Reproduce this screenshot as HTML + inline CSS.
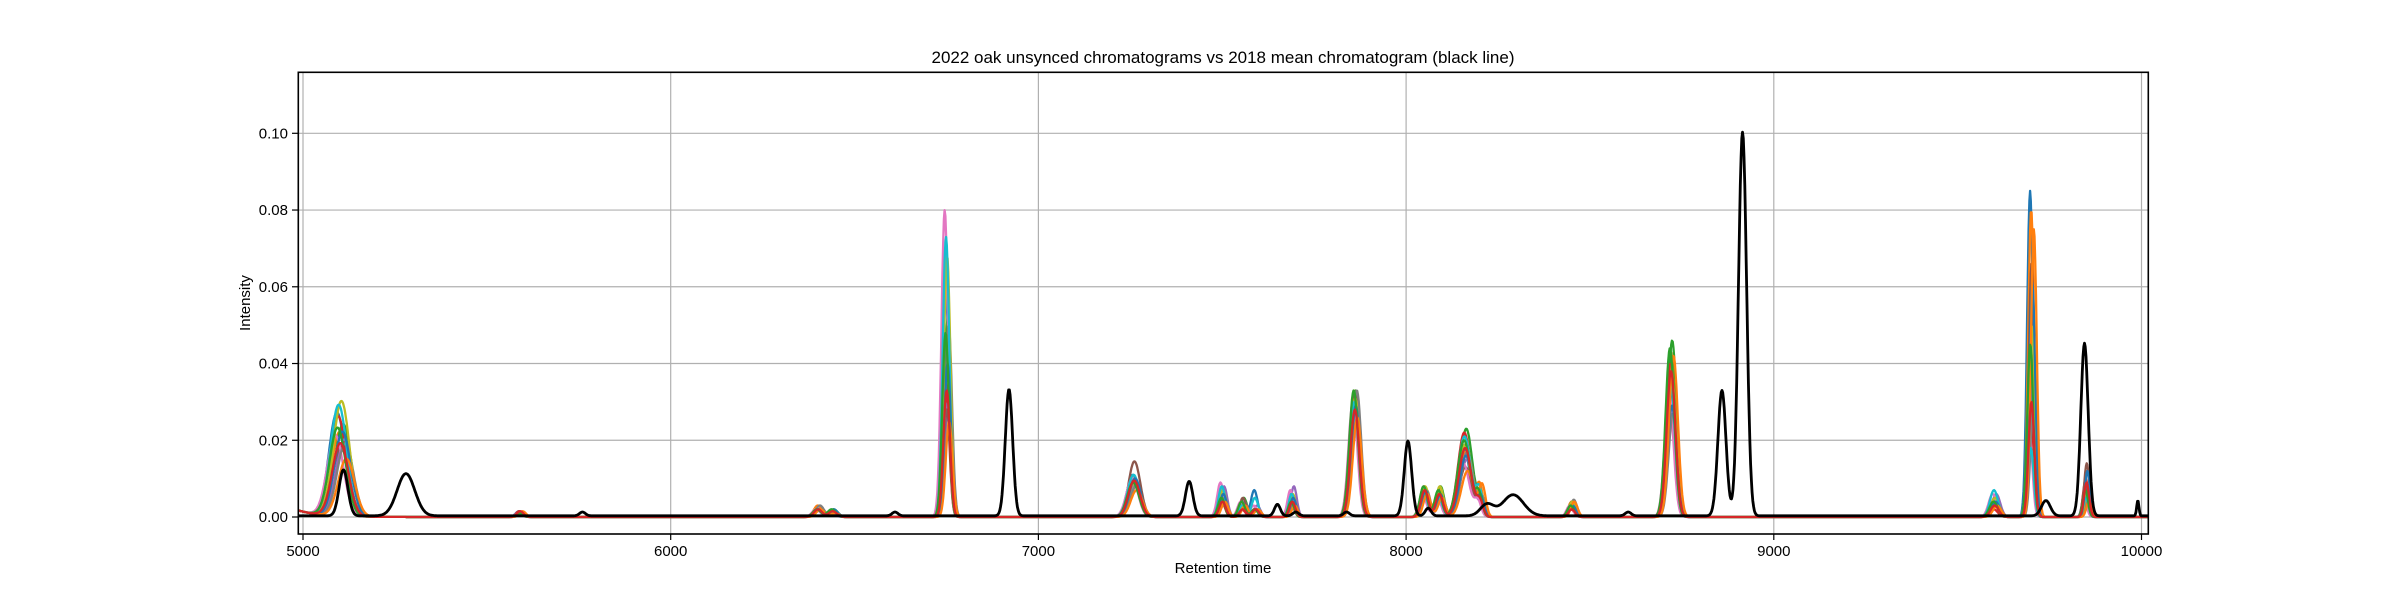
<!DOCTYPE html>
<html><head><meta charset="utf-8"><style>
html,body{margin:0;padding:0;background:#fff;}
svg{display:block;font-family:"Liberation Sans","DejaVu Sans",sans-serif;}
</style></head><body>
<svg id="chart" width="2387" height="600" viewBox="0 0 2387 600">
<defs><clipPath id="plotclip"><rect x="298.3" y="72.3" width="1850" height="461.7"/></clipPath></defs>
<text x="1223" y="63" text-anchor="middle" font-size="17">2022 oak unsynced chromatograms vs 2018 mean chromatogram (black line)</text>
<g id="grid"></g>
<g id="series" clip-path="url(#plotclip)"></g>
<rect x="298.3" y="72.3" width="1850" height="461.7" fill="none" stroke="#000" stroke-width="1.6"/>
<g id="axes"></g>
<text x="1223" y="573" text-anchor="middle" font-size="15">Retention time</text>
<text transform="translate(250,303) rotate(-90)" text-anchor="middle" font-size="15">Intensity</text>
</svg>
<script>
const xTicks = [5000, 6000, 7000, 8000, 9000, 10000];
const yTicks = [0.00, 0.02, 0.04, 0.06, 0.08, 0.10];
const yTickLabels = ["0.00", "0.02", "0.04", "0.06", "0.08", "0.10"];
const colors = ["#1f77b4","#ff7f0e","#2ca02c","#d62728","#9467bd","#8c564b","#e377c2","#7f7f7f","#bcbd22","#17becf","#1f77b4","#ff7f0e","#2ca02c","#d62728"];
const peakCenters = [5100,5590,6400,6440,6750,7260,7500,7555,7590,7690,7860,8050,8090,8160,8200,8450,8720,9600,9700,9850];
const peakWidths = [22,9,11,11,9,16,9,9,9,8,12,10,10,17,9,9,12,11,8,7];
const seriesShift = [-5,0,6,-3,8,2,-8,10,3,-2,5,12,-4,1];
const amp5100 = [.027,.022,.024,.026,.020,.018,.021,.019,.030,.029,.022,.015,.023,.019];
const amp5590 = [.0015,.001,.001,.0015,.001,.001,.001,.001,.001,.001,.001,.0015,.001,.0015];
const amp6400 = [.002,.003,.002,.002,.002,.002,.002,.003,.002,.002,.002,.002,.002,.002];
const amp6440 = [.0015,.001,.002,.0015,.001,.001,.001,.0015,.001,.001,.002,.001,.002,.0015];
const amp6750 = [.062,.045,.052,.035,.030,.028,.080,.050,.068,.073,.040,.025,.048,.033];
const amp7260 = [.011,.009,.008,.010,.009,.0145,.010,.008,.009,.011,.010,.007,.009,.0095];
const amp7500 = [.007,.005,.006,.004,.008,.006,.009,.005,.007,.008,.006,.004,.005,.004];
const amp7555 = [.003,.003,.005,.002,.004,.005,.004,.003,.003,.003,.002,.003,.004,.002];
const amp7590 = [.007,.002,.002,.002,.003,.002,.003,.002,.002,.005,.002,.002,.002,.002];
const amp7690 = [.006,.004,.005,.003,.008,.005,.007,.004,.006,.006,.005,.003,.004,.004];
const amp7860 = [.030,.033,.033,.029,.031,.032,.030,.033,.031,.030,.029,.026,.033,.028];
const amp8050 = [.006,.008,.007,.008,.006,.007,.006,.007,.008,.006,.007,.006,.008,.007];
const amp8090 = [.005,.007,.008,.006,.004,.006,.005,.006,.008,.005,.006,.005,.007,.006];
const amp8160 = [.018,.017,.023,.022,.015,.013,.014,.017,.019,.021,.016,.012,.020,.018];
const amp8200 = [.006,.008,.005,.004,.003,.005,.004,.005,.006,.007,.005,.008,.006,.004];
const amp8450 = [.003,.004,.003,.002,.003,.004,.003,.0045,.004,.003,.003,.004,.003,.002];
const amp8720 = [.035,.043,.046,.040,.030,.028,.032,.027,.038,.036,.029,.042,.044,.038];
const amp9600 = [.004,.003,.005,.002,.006,.005,.006,.004,.005,.007,.004,.003,.004,.003];
const amp9700 = [.085,.080,.040,.028,.035,.066,.022,.030,.050,.018,.061,.075,.045,.030];
const amp9850 = [.008,.004,.006,.010,.005,.014,.004,.005,.006,.005,.012,.004,.007,.009];
const ampTable = [amp5100,amp5590,amp6400,amp6440,amp6750,amp7260,amp7500,amp7555,amp7590,amp7690,amp7860,amp8050,amp8090,amp8160,amp8200,amp8450,amp8720,amp9600,amp9700,amp9850];
const refCenters = [5110,5280,5760,6610,6920,7410,7650,7700,7838,8005,8060,8220,8291,8604,8859,8915,9740,9845,9990];
const refWidths = [12,24,8,8,10,10,8,8,8,10,8,18,28,8,11,11,12,10,3];
const refAmps = [.012,.011,.001,.001,.033,.009,.003,.001,.001,.0195,.002,.003,.0055,.001,.0327,.100,.004,.045,.004];

const X0=5000, XPX0=303, XS=0.3677;
const YPX0=517, YS=3837;
const xS = v => XPX0 + (v - X0) * XS;
const yS = v => YPX0 - v * YS;
const NS = "http://www.w3.org/2000/svg";
const grid = document.getElementById('grid');
const axes = document.getElementById('axes');
const series = document.getElementById('series');

xTicks.forEach((t) => {
  const x = xS(t);
  const g = document.createElementNS(NS,'line');
  g.setAttribute('x1',x);g.setAttribute('x2',x);g.setAttribute('y1',72.3);g.setAttribute('y2',534);
  g.setAttribute('stroke','#b0b0b0');g.setAttribute('stroke-width','1.2');
  
  
  grid.appendChild(g);
  const tk = document.createElementNS(NS,'line');
  tk.setAttribute('x1',x);tk.setAttribute('x2',x);tk.setAttribute('y1',534);tk.setAttribute('y2',540);
  tk.setAttribute('stroke','#000');tk.setAttribute('stroke-width','1.2');
  
  
  axes.appendChild(tk);
  const tx = document.createElementNS(NS,'text');
  tx.setAttribute('x',x);tx.setAttribute('y',556);tx.setAttribute('text-anchor','middle');tx.setAttribute('font-size','15');
  tx.textContent = String(t);
  
  
  axes.appendChild(tx);
});
yTicks.forEach((t,i) => {
  const y = yS(t);
  const g = document.createElementNS(NS,'line');
  g.setAttribute('x1',298.3);g.setAttribute('x2',2148.3);g.setAttribute('y1',y);g.setAttribute('y2',y);
  g.setAttribute('stroke','#b0b0b0');g.setAttribute('stroke-width','1.2');
  
  
  grid.appendChild(g);
  const tk = document.createElementNS(NS,'line');
  tk.setAttribute('x1',292);tk.setAttribute('x2',298.3);tk.setAttribute('y1',y);tk.setAttribute('y2',y);
  tk.setAttribute('stroke','#000');tk.setAttribute('stroke-width','1.2');
  
  
  axes.appendChild(tk);
  const tx = document.createElementNS(NS,'text');
  tx.setAttribute('x',288);tx.setAttribute('y',y+5);tx.setAttribute('text-anchor','end');tx.setAttribute('font-size','15');
  tx.textContent = yTickLabels[i];
  
  
  axes.appendChild(tx);
});

function buildPath(fn){
  let d='';
  for(let t=4985;t<=10020;t+=2){
    d += (d?'L':'M') + xS(t).toFixed(1) + ',' + yS(fn(t)).toFixed(1);
  }
  return d;
}
colors.forEach((c,s) => {
  const fn = t => {
    let v = 0.0018*Math.exp(-(t-4985)/60);
    for(let k=0;k<peakCenters.length;k++){
      const m = peakCenters[k] + seriesShift[s]*(k===0?1.5:0.6);
      const w = peakWidths[k];
      v += ampTable[k][s]*Math.exp(-0.5*((t-m)/w)**2);
    }
    return v;
  };
  const p = document.createElementNS(NS,'path');
  p.setAttribute('d',buildPath(fn));
  p.setAttribute('fill','none');p.setAttribute('stroke',c);p.setAttribute('stroke-width','2.3');
  p.setAttribute('stroke-linejoin','round');
  
  
  series.appendChild(p);
});
const refFn = t => {
  let v = 0.0003;
  for(let k=0;k<refCenters.length;k++) v += refAmps[k]*Math.exp(-0.5*((t-refCenters[k])/refWidths[k])**2);
  return v;
};
const rp = document.createElementNS(NS,'path');
rp.setAttribute('d',buildPath(refFn));
rp.setAttribute('fill','none');rp.setAttribute('stroke','#000');rp.setAttribute('stroke-width','2.8');
rp.setAttribute('stroke-linejoin','round');


series.appendChild(rp);
</script>
</body></html>
